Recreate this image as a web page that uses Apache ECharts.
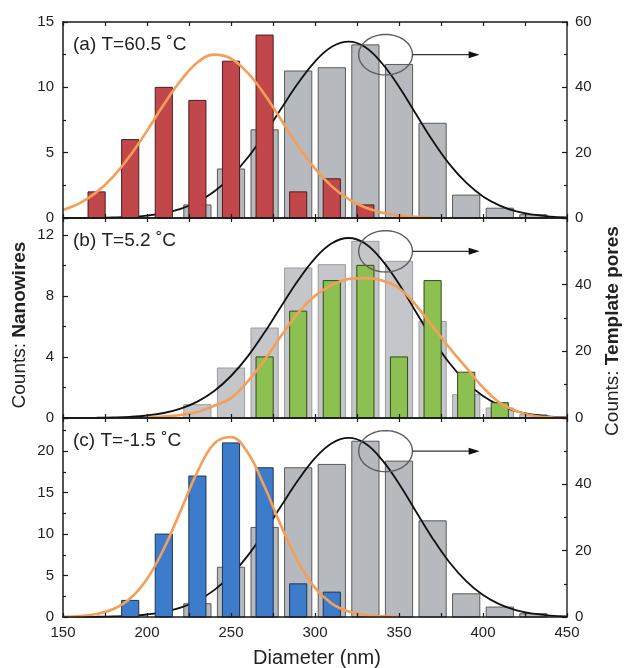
<!DOCTYPE html>
<html><head><meta charset="utf-8">
<script src="https://cdn.jsdelivr.net/npm/echarts/dist/echarts.min.js"></script>
<style>html,body{margin:0;padding:0;background:#fff}#c{width:625px;height:668px}</style>
</head><body><div id="c"></div><script>
// ---- data ----
const grayX = [230, 250, 270, 290, 310, 330, 350, 370, 390, 410, 430];
const grayPores = [4, 15, 27, 45, 46, 53, 47, 29, 7, 3, 1];

const redX = [170, 190, 210, 230, 250, 270, 290, 310, 330];
const redCounts = [2, 6, 10, 9, 12, 14, 2, 3, 1];
const greenX = [270, 290, 310, 330, 350, 370, 390, 410];
const greenCounts = [4, 7, 9, 10, 4, 9, 3, 1];
const blueX = [190, 210, 230, 250, 270, 290, 310];
const blueCounts = [2, 10, 17, 21, 18, 4, 3];

const blackFitX = [150,160,170,180,190,200,210,220,230,240,250,260,270,280,290,300,310,320,330,340,350,360,370,380,390,400,410,420,430,440,450];
const blackFit  = [0.01,0.03,0.07,0.16,0.35,0.75,1.5,2.8,4.9,8.1,12.6,18.5,25.7,33.6,41.3,47.9,52.4,54,52.3,47.3,40.2,31.9,23.7,16.5,10.8,6.6,3.8,2.0,1.0,0.4,0.15];

const orangeAX = [150,160,170,180,190,200,210,220,230,240,250,260,270,280,290,300,310,320,330,340,350,360,370];
const orangeA  = [0.62,1.14,1.98,3.19,4.78,6.67,8.69,10.5,11.9,12.5,12.2,11.1,9.46,7.48,5.5,3.78,2.42,1.44,0.8,0.41,0.2,0.09,0.04];
const orangeBX = [200,210,220,230,240,250,260,270,280,290,300,310,320,330,340,350,360,370,380,390,400,410,420,430,440,450];
const orangeB  = [0.05,0.1,0.2,0.4,0.8,1.3,2.4,3.8,5.4,6.9,8.0,8.7,9.1,9.16,9.0,8.5,7.4,6.0,4.6,3.3,2.0,1.0,0.45,0.15,0.05,0];
const orangeCX = [150,160,170,180,190,200,210,220,230,240,250,260,270,280,290,300,310,320,330,340,350];
const orangeC  = [0.03,0.12,0.36,0.96,2.24,4.59,8.21,12.8,17.5,20.9,21.7,19.8,15.7,10.9,6.62,3.51,1.62,0.66,0.23,0.07,0.02];

const panelLabels = ['(a) T=60.5 \u02DAC', '(b) T=5.2 \u02DAC', '(c) T=-1.5 \u02DAC'];
const leftMax = [15, 13.1, 24];
const leftInterval = [5, 4, 5];
const rightMax = 60, rightInterval = 20;
const xMin = 150, xMax = 450, xInterval = 50;

// annotation (ellipse around the pore peak + arrow to right axis), in data units
const annotCenter = [342, 50];
const annotRadius = [16, 6.2];
const arrowEndX = 398;

const grayBinWidth = 16.2, colBinWidth = 10.2;

// ---- styles / layout ----
const FONT = '"Liberation Sans", Arial, Helvetica, sans-serif';
const AX = '#1a1a1a';
const grids = [
  {left: 63, right: 58, top: 22, height: 196},
  {left: 63, right: 58, top: 218, height: 200},
  {left: 63, right: 58, top: 418, height: 199}
];
const colFill = ['#c2474b', '#8cc152', '#3d7cca'];
const colStroke = ['#4a1e1e', '#2f4a1a', '#1b355a'];
const grayFill = ['#b6b9bd', '#c4c6c9', '#b6b9bd'];
const grayStroke = ['#5a5a5a', '#9c9c9c', '#5a5a5a'];
const colData = [
  redX.map((x, i) => [x, redCounts[i]]),
  greenX.map((x, i) => [x, greenCounts[i]]),
  blueX.map((x, i) => [x, blueCounts[i]])
];
const orangeData = [
  orangeAX.map((x, i) => [x, orangeA[i]]),
  orangeBX.map((x, i) => [x, orangeB[i]]),
  orangeCX.map((x, i) => [x, orangeC[i]])
];
const grayData = grayX.map((x, i) => [x, grayPores[i]]);
const blackData = blackFitX.map((x, i) => [x, blackFit[i]]);

function barRenderer(width, fill, stroke) {
  return function (params, api) {
    const x = api.value(0), y = api.value(1);
    const p0 = api.coord([x - width / 2, y]);
    const p1 = api.coord([x + width / 2, 0]);
    return {
      type: 'rect',
      shape: {x: p0[0], y: p0[1], width: p1[0] - p0[0], height: p1[1] - p0[1]},
      style: {fill: fill, stroke: stroke, lineWidth: 1}
    };
  };
}

function annotRenderer(params, api) {
  const cx = api.value(0), cy = api.value(1);
  const pts = [];
  for (let k = 0; k <= 72; k++) {
    const t = k / 72 * Math.PI * 2;
    pts.push(api.coord([cx + annotRadius[0] * Math.cos(t), cy + annotRadius[1] * Math.sin(t)]));
  }
  const a0 = api.coord([cx + annotRadius[0], cy]);
  const a1 = api.coord([arrowEndX, cy]);
  return {
    type: 'group',
    children: [
      {type: 'polyline', shape: {points: pts}, style: {stroke: '#5e5e5e', lineWidth: 1.4, fill: null}},
      {type: 'line', shape: {x1: a0[0], y1: a0[1], x2: a1[0] - 8, y2: a1[1]}, style: {stroke: '#333', lineWidth: 1.2}},
      {type: 'polygon', shape: {points: [[a1[0], a1[1]], [a1[0] - 11, a1[1] - 3.5], [a1[0] - 11, a1[1] + 3.5]]}, style: {fill: '#111'}}
    ]
  };
}

const xAxes = [], yAxes = [], series = [], graphics = [];
for (let i = 0; i < 3; i++) {
  const xBase = {
    gridIndex: i, type: 'value', min: xMin, max: xMax, interval: xInterval,
    axisLine: {show: true, onZero: false, lineStyle: {color: AX, width: 1.5}},
    axisTick: {show: true, inside: true, length: 4, lineStyle: {color: AX, width: 1.2}},
    minorTick: {show: true, splitNumber: 2, length: 4, lineStyle: {color: AX, width: 1.2}},
    splitLine: {show: false}, minorSplitLine: {show: false}, z: 10
  };
  xAxes.push(Object.assign({}, xBase, {
    position: 'bottom',
    axisLabel: {show: i === 2, fontSize: 15, color: '#222', fontFamily: FONT, margin: 8}
  }));
  xAxes.push(Object.assign({}, xBase, {position: 'top', axisLabel: {show: false}}));

  yAxes.push({
    gridIndex: i, type: 'value', position: 'left', min: 0, max: leftMax[i], interval: leftInterval[i],
    axisLine: {show: true, onZero: false, lineStyle: {color: AX, width: 1.5}},
    axisTick: {show: true, inside: true, length: 5, lineStyle: {color: AX, width: 1.2}},
    minorTick: {show: true, splitNumber: 2, length: 3, lineStyle: {color: AX, width: 1.2}},
    splitLine: {show: false}, minorSplitLine: {show: false},
    axisLabel: {fontSize: 15, color: '#222', fontFamily: FONT, margin: 9, showMaxLabel: i === 0, showMinLabel: true},
    z: 10
  });
  yAxes.push({
    gridIndex: i, type: 'value', position: 'right', min: 0, max: rightMax, interval: rightInterval,
    axisLine: {show: true, onZero: false, lineStyle: {color: '#2b2f36', width: 1.5}},
    axisTick: {show: true, inside: true, length: 5, lineStyle: {color: AX, width: 1.2}},
    minorTick: {show: true, splitNumber: 2, length: 3, lineStyle: {color: AX, width: 1.2}},
    splitLine: {show: false}, minorSplitLine: {show: false},
    axisLabel: {fontSize: 15, color: '#222', fontFamily: FONT, margin: 8, showMaxLabel: i === 0, showMinLabel: true},
    z: 10
  });

  const xi = 2 * i, yl = 2 * i, yr = 2 * i + 1;
  series.push({
    type: 'custom', name: 'pores' + i, xAxisIndex: xi, yAxisIndex: yr, z: 1,
    data: grayData, renderItem: barRenderer(grayBinWidth, grayFill[i], grayStroke[i]), silent: true
  });
  series.push({
    type: 'line', xAxisIndex: xi, yAxisIndex: yr, z: 2, data: blackData, smooth: 0.4,
    showSymbol: false, lineStyle: {color: '#111', width: 1.8}, silent: true
  });
  series.push({
    type: 'custom', name: 'wires' + i, xAxisIndex: xi, yAxisIndex: yl, z: 3,
    data: colData[i], renderItem: barRenderer(colBinWidth, colFill[i], colStroke[i]), silent: true
  });
  series.push({
    type: 'line', xAxisIndex: xi, yAxisIndex: yl, z: 4, data: orangeData[i], smooth: 0.4,
    showSymbol: false, lineStyle: {color: '#f59e58', width: 2.6}, silent: true
  });
  series.push({
    type: 'custom', xAxisIndex: xi, yAxisIndex: yr, z: 5, clip: false,
    data: [annotCenter], renderItem: annotRenderer, silent: true
  });

  graphics.push({
    type: 'text', x: 73, y: grids[i].top + 23,
    style: {text: panelLabels[i], font: '19px ' + FONT, fill: '#222', align: 'left', verticalAlign: 'middle'}
  });
}

graphics.push({
  type: 'text', x: 20, y: 325, rotation: Math.PI / 2,
  style: {
    text: '{a|Counts: }{b|Nanowires}', align: 'center', verticalAlign: 'middle',
    rich: {a: {fontSize: 19, fontFamily: FONT, fill: '#222'}, b: {fontSize: 19, fontFamily: FONT, fontWeight: 'bold', fill: '#222'}}
  }
});
graphics.push({
  type: 'text', x: 613, y: 331, rotation: Math.PI / 2,
  style: {
    text: '{a|Counts: }{b|Template pores}', align: 'center', verticalAlign: 'middle',
    rich: {a: {fontSize: 19, fontFamily: FONT, fill: '#222'}, b: {fontSize: 19, fontFamily: FONT, fontWeight: 'bold', fill: '#222'}}
  }
});
graphics.push({
  type: 'text', x: 317, y: 658,
  style: {text: 'Diameter (nm)', font: '20px ' + FONT, fill: '#222', align: 'center', verticalAlign: 'middle'}
});

const chart = echarts.init(document.getElementById('c'), null, {renderer: 'canvas'});
chart.setOption({
  animation: false,
  backgroundColor: '#fff',
  grid: grids,
  xAxis: xAxes,
  yAxis: yAxes,
  series: series,
  graphic: graphics
});
</script></body></html>
